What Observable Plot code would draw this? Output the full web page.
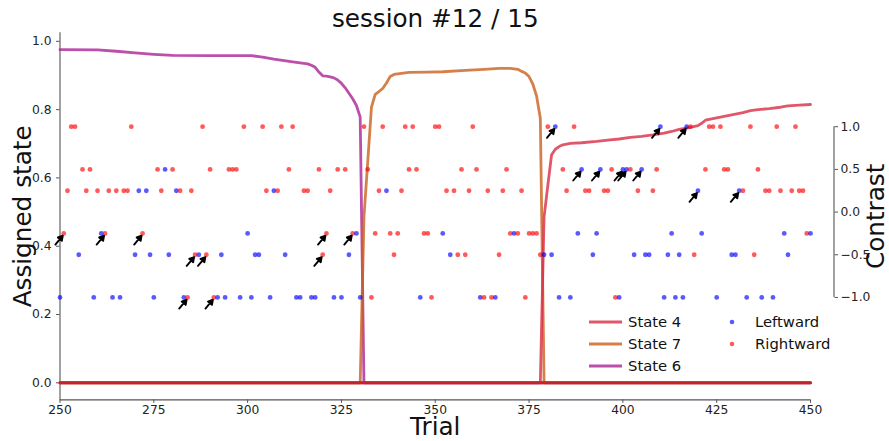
<!DOCTYPE html>
<html>
<head>
<meta charset="utf-8">
<script src="https://cdn.jsdelivr.net/npm/d3@7"></script>
<script src="https://cdn.jsdelivr.net/npm/@observablehq/plot@0.6"></script>
<style>
  body { margin: 0; background: #fff; font-family: "DejaVu Sans", sans-serif; }
  #wrap { position: relative; width: 889px; height: 441px; }
  #legend { position: absolute; left: 588px; top: 311px; font-size: 14.8px; color: #111;
            display: grid; grid-template-columns: 40px 99px 28px auto; row-gap: 0px; line-height: 22px; }
  #legend .sw { display: flex; align-items: center; height: 22px; }
</style>
</head>
<body>
<div id="wrap"><div id="legend"></div></div>
<script>
// Session window
const firstTrial = 250;
const lastTrial = 450;
const xTicks = [250, 275, 300, 325, 350, 375, 400, 425, 450];
const yTicks = [0, 0.2, 0.4, 0.6, 0.8, 1.0];
const contrastTicks = [-1, -0.5, 0, 0.5, 1];

// Signed stimulus contrast for each trial, starting at trial 250
const contrasts = [
  -1, -0.25, 0.25, 1, 1, -0.5, 0.5, 0.25, 0.5, -1,
  0.25, -0.25, -0.25, 0.25, -1, 0.25, -1, 0.25, 0.25, 1,
  -0.5, 0.25, -0.25, 0.25, -0.5, -1, 0.5, 0.25, 0.5, -0.5,
  0.5, 0.25, 0.25, -1, -1, 0.25, -0.5, -0.5, 1, -0.5,
  0.5, -1, -1, -0.5, -1, 0.5, 0.5, 0.5, -1, 1,
  -0.25, -1, -0.5, -0.5, 1, 0.25, -1, 0.25, 0.25, 1,
  -0.5, 0.5, 1, -1, -1, 0.25, 0.25, -1, -1, 0.5,
  -0.5, -0.25, 0.25, -1, 0.5, -1, 0.5, -0.5, -0.25, -0.25,
  -1, 1, 0.5, -1, -0.25, 0.25, 1, 0.25, -0.25, -0.5,
  -0.25, 0.25, 1, 0.5, 1, 0.5, -1, -0.25, -0.25, -1,
  1, 1, -0.25, 0.25, -0.5, 0.25, -0.5, 0.5, -0.5, 0.25,
  1, 0.5, -1, -1, 0.25, -1, -1, -0.5, 0.25, 0.5,
  -0.25, -0.25, -0.25, 0.25, -1, -0.25, -0.25, -0.25, -0.5, -0.5,
  1, -0.5, 1, -1, 0.5, 0.25, -1, 1, -0.25, 0.5,
  0.25, 0.25, -0.5, -0.25, 0.5, 0.25, 0.25, 0.5, -1, -1,
  0.5, 0.5, 0.5, -0.5, 0.25, 0.5, -0.5, -0.5, 0.25, 0.5,
  1, -1, -0.5, -0.25, -1, -0.5, -1, 1, 1, -0.5,
  0.25, -0.25, 0.5, 1, 1, -1, 1, 0.5, 0.5, -0.5,
  -0.5, 0.25, 0.25, -1, 1, -0.5, 0.5, -1, 0.25, 0.25,
  -1, 1, 0.25, -0.25, -0.5, 0.25, 1, 0.25, 0.25, -0.25,
  -0.25
];

// Response for each trial: L = leftward, R = rightward
const choices = [
  "L","R","R","R","R","L","R","R","R","L",
  "R","L","R","R","L","R","L","R","R","R",
  "L","L","R","L","L","L","R","R","L","L",
  "R","L","R","L","R","R","R","L","R","R",
  "R","R","L","L","L","R","R","R","L","R",
  "L","L","L","L","R","R","L","L","R","R",
  "L","R","R","L","L","R","R","L","L","R",
  "R","R","R","L","R","L","R","L","R","L",
  "L","R","R","R","R","R","R","L","R","R",
  "R","R","R","R","R","R","L","R","R","R",
  "R","R","L","R","L","R","R","R","R","R",
  "R","R","L","R","R","R","L","R","R","R",
  "R","L","R","R","R","R","R","R","R","L",
  "R","L","L","L","R","R","L","R","L","L",
  "R","R","L","L","L","R","R","R","R","L",
  "L","L","R","L","R","L","L","L","R","R",
  "L","L","L","L","L","L","L","L","R","R",
  "L","L","R","R","R","L","R","R","R","L",
  "L","L","R","L","R","R","R","L","R","R",
  "L","R","R","L","L","R","R","R","R","R",
  "L"
];

// Trials flagged with an arrow
const flaggedTrials = [251, 262, 272, 284, 286, 289, 291, 320, 321, 328,
                       382, 389, 394, 400, 401, 405, 410, 417, 420, 431];

// Posterior of the assigned state along the session
const state6Trials = [250, 260, 265, 270, 275, 280, 290, 301, 304, 307, 312, 316, 317, 318, 319, 320, 321, 322, 323, 324, 325, 326, 327, 328, 329, 330, 331, 450];
const state6Values = [0.976, 0.975, 0.971, 0.966, 0.962, 0.959, 0.958, 0.958, 0.954, 0.948, 0.940, 0.934, 0.930, 0.924, 0.910, 0.899, 0.898, 0.896, 0.893, 0.887, 0.877, 0.864, 0.848, 0.832, 0.812, 0.778, 0, 0];

const state7Trials = [250, 330, 331, 332, 333, 334, 335, 336, 337, 338, 339, 340, 343, 348, 352, 358, 363, 367, 370, 372, 373, 374, 375, 376, 377, 378, 379, 450];
const state7Values = [0, 0, 0.485, 0.646, 0.807, 0.845, 0.853, 0.862, 0.878, 0.897, 0.903, 0.905, 0.909, 0.910, 0.911, 0.915, 0.918, 0.921, 0.921, 0.918, 0.912, 0.907, 0.897, 0.875, 0.840, 0.775, 0, 0];

const state4Trials = [250, 378, 379, 380, 381, 382, 383, 384, 386, 389, 393, 396, 399, 402, 405, 408, 411, 413, 415, 418, 420, 421, 422, 424, 426, 429, 432, 434, 436, 439, 442, 444, 447, 450];
const state4Values = [0, 0, 0.485, 0.578, 0.668, 0.684, 0.692, 0.697, 0.701, 0.703, 0.707, 0.711, 0.714, 0.719, 0.722, 0.726, 0.731, 0.736, 0.742, 0.748, 0.753, 0.760, 0.769, 0.774, 0.778, 0.785, 0.791, 0.797, 0.800, 0.803, 0.807, 0.811, 0.813, 0.815];

// The remaining states stay at zero for the whole window
const otherStatesTrials = [250, 450];
const otherStatesValues = [0, 0];
const otherStatesColor = "#bf2529";

const stateNames = ["State 4", "State 7", "State 6"];
const stateColors = ["#d82c45", "#c9601d", "#aa2395"];
const choiceNames = ["Leftward", "Rightward"];
const choiceColors = ["#0000ff", "#ff0000"];

// Contrast [-1, 1] is drawn on the middle band [0.25, 0.75] of the state axis
const contrastToY = c => 0.5 + 0.25 * c;
const fmt1 = d3.format(".1f");

const trials = contrasts.map((c, i) => ({
  trial: firstTrial + i,
  contrast: c,
  choice: choices[i] === "L" ? "Leftward" : "Rightward"
}));
const flagged = trials.filter(d => flaggedTrials.includes(d.trial));

const stateRows = [
  ...state6Trials.map((t, i) => ({trial: t, p: state6Values[i], state: "State 6"})),
  ...state7Trials.map((t, i) => ({trial: t, p: state7Values[i], state: "State 7"})),
  ...state4Trials.map((t, i) => ({trial: t, p: state4Values[i], state: "State 4"}))
];
const otherRows = otherStatesTrials.map((t, i) => ({trial: t, p: otherStatesValues[i]}));

// Arrow with a solid triangular head
const solidArrow = {
  draw(context, l) {
    const head = 4.5, wing = 2.6;
    context.moveTo(0, 0);
    context.lineTo(0, -l + head);
    context.moveTo(0, -l);
    context.lineTo(-wing, -l + head);
    context.lineTo(wing, -l + head);
    context.closePath();
  }
};

const axisGrey = "#555";
const tickFont = 12.3;
const labelFont = 24.7;

const chart = Plot.plot({
  width: 889,
  height: 441,
  marginLeft: 59.5,
  marginRight: 79,
  marginTop: 32.3,
  marginBottom: 41.6,
  style: {fontFamily: "DejaVu Sans, sans-serif", background: "transparent", color: "#222", overflow: "visible"},
  x: {domain: [firstTrial, lastTrial], axis: null},
  y: {domain: [-0.05, 1.025], axis: null},
  color: {domain: stateNames, range: stateColors},
  marks: [
    // spines
    Plot.ruleX([firstTrial], {stroke: axisGrey, strokeWidth: 1.1}),
    Plot.ruleY([-0.05], {stroke: axisGrey, strokeWidth: 1.1}),
    Plot.ruleX([lastTrial], {y1: contrastToY(-1), y2: contrastToY(1), dx: 23.5, stroke: axisGrey, strokeWidth: 1.1}),
    // axes
    Plot.axisX({ticks: xTicks, tickSize: 3.5, tickPadding: 2, fontSize: tickFont, stroke: axisGrey, label: null, tickFormat: d3.format("d")}),
    Plot.axisY({ticks: yTicks, tickSize: 3.5, tickPadding: 5, fontSize: tickFont, stroke: axisGrey, label: null, tickFormat: ".1f"}),
    Plot.axisY({anchor: "right", ticks: contrastTicks.map(contrastToY), tickFormat: v => fmt1((v - 0.5) / 0.25),
                tickSize: 3.5, tickPadding: 3, dx: 23.5, fontSize: tickFont, stroke: axisGrey, label: null}),
    // state posteriors
    Plot.line(stateRows, {x: "trial", y: "p", z: "state", stroke: "state", strokeWidth: 2.8, strokeOpacity: 0.8, curve: "linear"}),
    Plot.line(otherRows, {x: "trial", y: "p", stroke: otherStatesColor, strokeWidth: 3}),
    // trial responses
    Plot.dot(trials, {x: "trial", y: d => contrastToY(d.contrast), r: 2.4,
                      fill: d => d.choice === "Leftward" ? choiceColors[0] : choiceColors[1], fillOpacity: 0.65}),
    // flags
    Plot.vector(flagged, {x: "trial", y: d => contrastToY(d.contrast), rotate: 40, length: 11.5, anchor: "end",
                          dx: -1, dy: 2.3, stroke: "black", fill: "black", strokeWidth: 1.9, shape: solidArrow}),
    // titles
    Plot.text(["session #12 / 15"], {text: d => d, frameAnchor: "top", dy: -13.5, fontSize: labelFont, lineAnchor: "middle", textAnchor: "middle", fill: "#111"}),
    Plot.text(["Trial"], {text: d => d, frameAnchor: "bottom", dy: 27.5, fontSize: labelFont, lineAnchor: "middle", textAnchor: "middle", fill: "#111"}),
    Plot.text(["Assigned state"], {text: d => d, frameAnchor: "left", dx: -37, rotate: -90, fontSize: labelFont, lineAnchor: "middle", textAnchor: "middle", fill: "#111"}),
    Plot.text(["Contrast"], {text: d => d, frameAnchor: "right", dx: 66, rotate: -90, fontSize: labelFont, lineAnchor: "middle", textAnchor: "middle", fill: "#111"})
  ]
});
document.getElementById("wrap").prepend(chart);

// Legend
const legend = document.getElementById("legend");
const rows = Math.max(stateNames.length, choiceNames.length);
for (let i = 0; i < rows; i++) {
  const a = document.createElement("div"); a.className = "sw";
  const b = document.createElement("div");
  const c = document.createElement("div"); c.className = "sw";
  const e = document.createElement("div");
  if (i < stateNames.length) {
    a.innerHTML = `<svg width="34" height="6"><line x1="1" x2="34" y1="3" y2="3" stroke="${stateColors[i]}" stroke-opacity="0.8" stroke-width="2.8"/></svg>`;
    b.textContent = stateNames[i];
  }
  if (i < choiceNames.length) {
    c.innerHTML = `<svg width="10" height="10"><circle cx="5" cy="5" r="2.3" fill="${choiceColors[i]}" fill-opacity="0.65"/></svg>`;
    e.textContent = choiceNames[i];
  }
  legend.append(a, b, c, e);
}
</script>
</body>
</html>
